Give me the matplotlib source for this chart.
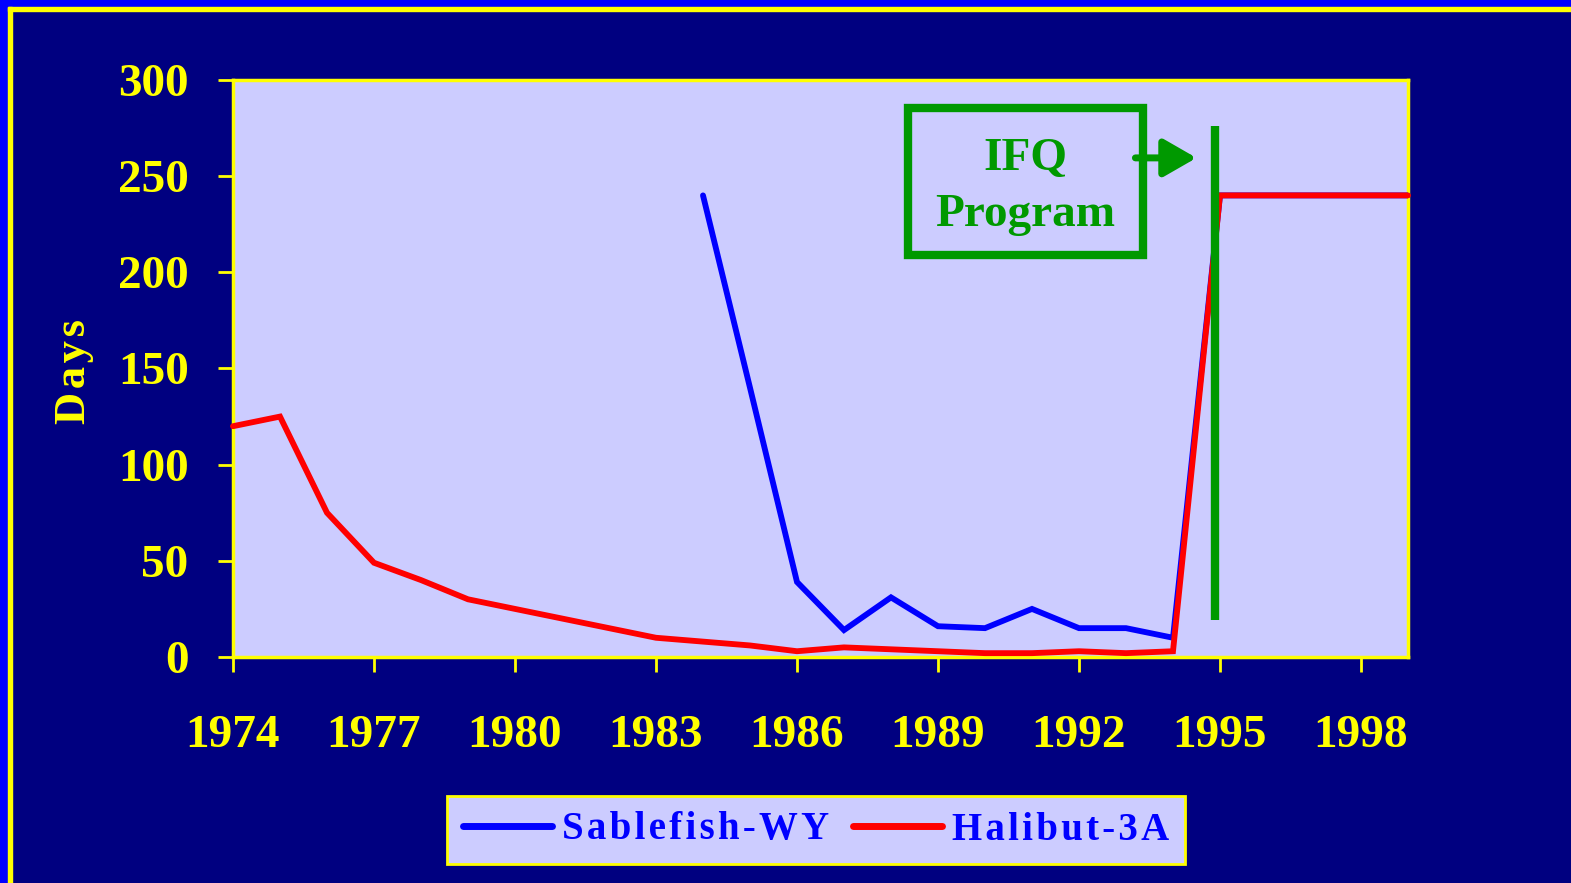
import numpy as np
import matplotlib
matplotlib.use("Agg")
import matplotlib.pyplot as plt
import matplotlib.patches as mpatches
from matplotlib.lines import Line2D

years = list(range(1974, 2000))
halibut_3a = [120, 125, 75, 49, 40, 30, 25, 20, 15, 10, 8, 6, 3, 5, 4, 3, 2, 2, 3, 2, 3,
              240, 240, 240, 240, 240]
sable_years = list(range(1984, 2000))
sablefish_wy = [240, 140, 39, 14, 31, 16, 15, 25, 15, 15, 10, 240, 240, 240, 240, 240]
xticks = [1974, 1977, 1980, 1983, 1986, 1989, 1992, 1995, 1998]
yticks = [0, 50, 100, 150, 200, 250, 300]

navy = '#000080'
lav = '#CCCCFF'
yel = '#FFFF00'
grn = '#009900'
serif = ['Liberation Serif', 'DejaVu Serif']
hs = '\u200a'  # hair space for the spaced-out lettering


def spaced(s):
    return hs.join(s)


fig = plt.figure(figsize=(15.71, 8.83), dpi=100, facecolor=navy)

# outer frame: blue strip + yellow line on top and left
fig.patches.append(mpatches.Rectangle((0, 1 - 7 / 883), 1, 7 / 883, transform=fig.transFigure,
                                      color='#0000FF', zorder=0))
fig.patches.append(mpatches.Rectangle((0, 0), 8 / 1571, 1, transform=fig.transFigure,
                                      color='#0000FF', zorder=0))
fig.patches.append(mpatches.Rectangle((8 / 1571, 0), 4 / 1571, 1 - 7 / 883, transform=fig.transFigure,
                                      color=yel, zorder=1))
fig.patches.append(mpatches.Rectangle((8 / 1571, 1 - 11 / 883), 1, 4 / 883, transform=fig.transFigure,
                                      color=yel, zorder=1))

ax = fig.add_axes([233 / 1571, 1 - 657 / 883, (1408 - 233) / 1571, (657 - 80) / 883])
ax.set_facecolor(lav)
ax.set_xlim(1974, 1999)
ax.set_ylim(0, 300)

ax.plot(sable_years, sablefish_wy, color='#0000FF', lw=4.2, zorder=3, solid_capstyle='round',
        solid_joinstyle='miter')
ax.plot(years, halibut_3a, color='#FF0000', lw=4.2, zorder=4, solid_capstyle='round',
        solid_joinstyle='miter', clip_on=False)

for s in ax.spines.values():
    s.set_color(yel)
    s.set_linewidth(2.5)

ax.set_xticks(xticks)
ax.set_yticks(yticks)
ax.tick_params(colors=yel, length=11, width=2)
ax.tick_params(axis='x', pad=31)
ax.tick_params(axis='y', pad=21)
for lab in ax.get_xticklabels() + ax.get_yticklabels():
    lab.set_fontfamily(serif)
    lab.set_fontweight('bold')
    lab.set_fontsize(34)
    lab.set_color(yel)

fig.text(74 / 1571, 1 - 372 / 883, spaced('Days'), rotation=90, color=yel, fontsize=32,
         fontweight='bold', family=serif, ha='center', va='center')

# IFQ program marker
ax.vlines(1994.89, 19, 276, color=grn, lw=6, zorder=5)
box = mpatches.Rectangle((1988.36, 209), 5.0, 76.5, fill=False, ec=grn, lw=6, zorder=5)
ax.add_patch(box)
ax.text(1990.86, 244.5, 'IFQ\nProgram', color=grn, fontsize=34, fontweight='bold', family=serif,
        ha='center', va='center', linespacing=1.45, zorder=6)
ax.annotate('', xy=(1994.5, 259.5), xytext=(1993.2, 259.5),
            arrowprops=dict(arrowstyle='-|>,head_length=2.0,head_width=1.15', color=grn, lw=5,
                            shrinkA=0, shrinkB=0), zorder=6)

handles = [Line2D([], [], color='#0000FF', lw=5, solid_capstyle='round'),
           Line2D([], [], color='#FF0000', lw=5, solid_capstyle='round')]
leg = fig.legend(handles, [spaced('Sablefish-WY'), spaced('Halibut-3A')], loc='center',
                 bbox_to_anchor=(816 / 1571, 1 - 830 / 883), ncol=2, frameon=True,
                 fancybox=False, facecolor=lav, edgecolor=yel, framealpha=1,
                 handlelength=2.3, handletextpad=0.25, columnspacing=0.6, borderpad=0.4,
                 prop={'family': serif, 'weight': 'bold', 'size': 28})
leg.get_frame().set_linewidth(2)
for t in leg.get_texts():
    t.set_color('#0000FF')

fig.savefig('out.png', dpi=100, facecolor=navy)
